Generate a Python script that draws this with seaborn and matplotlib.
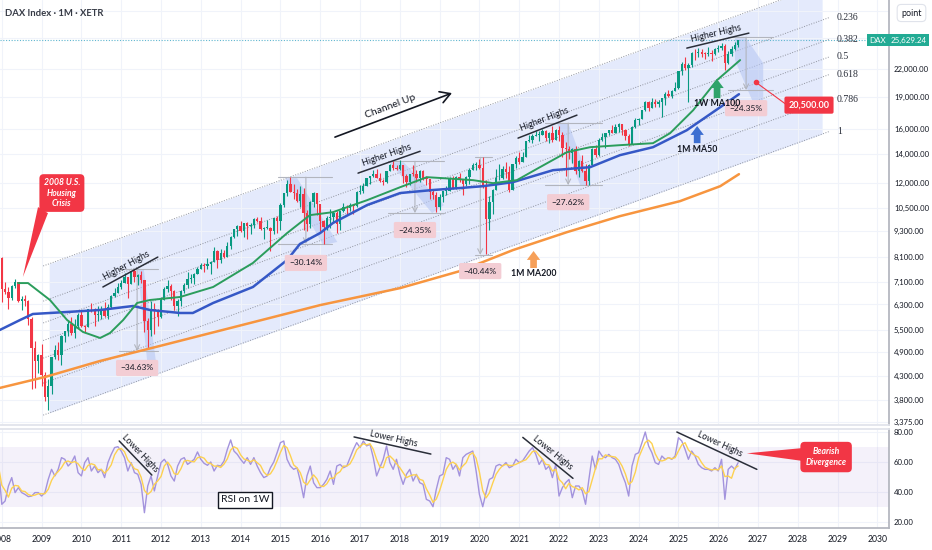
import numpy as np
import pandas as pd
import matplotlib
matplotlib.use("Agg")
import matplotlib.pyplot as plt
import seaborn as sns
from matplotlib.ticker import NullLocator
from matplotlib.patches import Polygon

sns.set_theme(style="white")
plt.rcParams["font.family"] = ["Lato", "DejaVu Sans"]

INK = "#131722"
UP = "#089981"
DOWN = "#f23645"
GRID = "#f0f3fa"
AXIS = "#b2b5be"

# monthly DAX candles, Dec 2007 .. Jul 2026 (open = previous close)
first_open = 7870
close = [
    8067,
    6851, 6748, 6535, 6949, 7097, 6418, 6479, 6422, 5831, 4988, 4669, 4810,
    4338, 3844, 4085, 4770, 4941, 4809, 5332, 5465, 5675, 5415, 5626, 5957,
    5608, 5598, 6154, 6136, 5964, 5966, 6148, 5925, 6229, 6601, 6688, 6914,
    7077, 7273, 7041, 7514, 7294, 7376, 7159, 5785, 5502, 6141, 6089, 5898,
    6458, 6856, 6947, 6761, 6264, 6416, 6772, 6970, 7216, 7260, 7405, 7612,
    7776, 7742, 7795, 7914, 8349, 7959, 8276, 8104, 8594, 9033, 9406, 9552,
    9306, 9692, 9556, 9603, 9943, 9833, 9407, 9470, 9474, 9327, 9980, 9806,
    10694, 11402, 11966, 11454, 11413, 10945, 11309, 10259, 9660, 10850, 11382, 10743,
    9798, 9495, 9966, 10039, 10263, 9680, 10337, 10593, 10511, 10665, 10640, 11481,
    11535, 11834, 12313, 12438, 12615, 12325, 12118, 12056, 12829, 13230, 13024, 12918,
    13189, 12436, 12097, 12612, 12605, 12306, 12806, 12364, 12247, 11447, 11257, 10559,
    11173, 11516, 11526, 12344, 11727, 12399, 12189, 11939, 12428, 12867, 13236, 13249,
    12982, 11890, 9936, 10862, 11587, 12311, 12313, 12945, 12761, 11556, 13291, 13719,
    13433, 13786, 15008, 15136, 15421, 15531, 15544, 15835, 15261, 15689, 15100, 15885,
    15471, 14461, 14415, 14098, 14388, 12784, 13484, 12835, 12114, 13253, 14397, 13924,
    15128, 15365, 15629, 15922, 15664, 16148, 16447, 15947, 15387, 14810, 16215, 16752,
    16904, 17678, 18492, 17932, 18498, 18235, 18509, 18907, 19325, 19078, 19627, 19909,
    21732, 22551, 22163, 22497, 23997, 23910, 24065, 23902, 23881, 24000, 23800, 24500,
    24600, 24900, 22700, 23900, 24500, 25000, 25629,
]
high = [
    8100,
    8100, 7100, 6900, 6990, 7230, 7100, 6590, 6620, 6460, 5880, 5200, 4850,
    5110, 4400, 4230, 4770, 5090, 5160, 5350, 5480, 5760, 5890, 5830, 6030,
    6095, 5650, 6160, 6340, 6170, 6240, 6250, 6390, 6300, 6640, 6890, 7080,
    7160, 7440, 7290, 7530, 7600, 7400, 7520, 7170, 5860, 6430, 6360, 6160,
    6540, 6920, 7190, 7030, 6800, 6480, 6780, 7080, 7480, 7410, 7440, 7690,
    7870, 7840, 8070, 7920, 8560, 8430, 8460, 8420, 8770, 9070, 9420, 9620,
    9800, 9720, 9740, 9700, 9970, 10050, 10030, 9520, 9890, 9530, 9990, 10090,
    10810, 11410, 12220, 12390, 11920, 11650, 11800, 11670, 10400, 10900, 11430, 11420,
    10760, 9890, 10100, 10480, 10350, 10370, 10350, 10800, 10700, 10830, 10760, 11490,
    11890, 12020, 12320, 12460, 12840, 12950, 12680, 12290, 12830, 13290, 13530, 13250,
    13600, 13240, 12620, 12620, 13200, 12880, 12890, 12880, 12460, 12300, 11640, 11480,
    11330, 11540, 11820, 12390, 12440, 12440, 12660, 12210, 12490, 12990, 13370, 13430,
    13640, 13800, 12190, 11200, 11630, 12920, 13310, 13120, 13460, 13150, 13310, 13900,
    14130, 14170, 15030, 15500, 15570, 15800, 15810, 16030, 15950, 15740, 16290, 16010,
    16290, 15740, 14930, 14590, 14500, 14660, 13540, 13950, 13290, 13260, 14480, 14680,
    15270, 15660, 15710, 15940, 16330, 16430, 16530, 16480, 16040, 15590, 16230, 17000,
    17000, 17700, 18570, 18570, 18890, 18780, 18690, 18920, 19490, 19680, 19660, 20520,
    21800, 22900, 23480, 22710, 24080, 24480, 24640, 24450, 24100, 24800, 24300, 24600,
    25000, 25300, 25100, 24200, 24900, 25400, 25700,
]
low = [
    7770,
    6384, 6650, 6167, 6450, 6880, 6380, 6130, 6250, 5640, 4015, 4040, 4380,
    4080, 3780, 3588, 3920, 4720, 4690, 4570, 5150, 5320, 5370, 5270, 5550,
    5600, 5430, 5590, 6060, 5610, 5770, 5830, 5880, 5830, 6170, 6560, 6680,
    6850, 7050, 6510, 7040, 7110, 6980, 7060, 5430, 4966, 5320, 5400, 5630,
    5850, 6440, 6740, 6460, 6130, 5920, 6260, 6710, 6890, 7080, 7020, 7390,
    7590, 7500, 7600, 7420, 7900, 7650, 7870, 8070, 8090, 8470, 8990, 9060,
    9260, 9020, 8900, 9170, 9440, 9760, 9370, 8900, 9400, 8355, 9170, 9220,
    9380, 10580, 11240, 11440, 11050, 10840, 10570, 9340, 9320, 9450, 10550, 10120,
    9310, 8700, 9370, 9470, 9750, 9210, 9370, 10280, 10170, 10350, 10170, 10550,
    11350, 11420, 11800, 11960, 12430, 12310, 12060, 11870, 12000, 12810, 12860, 12870,
    12860, 12000, 11730, 11870, 12500, 12100, 12100, 12180, 11870, 11050, 11010, 10280,
    10390, 10870, 11300, 11500, 11620, 11620, 12060, 11270, 11850, 11980, 12850, 12870,
    12920, 11720, 8256, 9360, 10200, 11580, 12190, 12240, 12340, 11450, 11550, 13030,
    13320, 13420, 13780, 14970, 14820, 15410, 15050, 15490, 15020, 14820, 14960, 15060,
    14990, 13800, 12440, 13620, 13380, 12620, 12390, 12770, 11860, 11860, 13210, 13790,
    13900, 15050, 14460, 15480, 15630, 15660, 15740, 15470, 15120, 14630, 14780, 16100,
    16350, 16840, 17640, 17630, 17870, 17950, 17950, 17020, 18210, 18950, 18840, 19580,
    19810, 21300, 21880, 18490, 22230, 23050, 23450, 23480, 23220, 23600, 23000, 23700,
    24100, 24300, 21900, 22600, 23600, 24300, 24800,
]

# weekly RSI sampled on each monthly bar
rsi = [
    57.1, 31.6, 33.8, 43.8, 49.4, 39.4, 42.7, 39.4, 38.2, 36.7,
    37.1, 39.4, 39.4, 37.1, 39.4, 48.2, 54.9, 50.5, 54.9, 62.7,
    61.6, 57.1, 59.4, 63.8, 52.7, 50.5, 59.4, 62.7, 53.8, 57.1,
    52.7, 54.9, 49.4, 59.4, 64.9, 69.4, 70.0, 67.1, 62.7, 53.8,
    59.4, 52.7, 51.6, 44.9, 26.0, 43.8, 50.5, 40.5, 50.5, 59.4,
    61.6, 58.2, 50.5, 47.1, 57.1, 61.6, 62.7, 58.2, 59.8, 61.6,
    66.5, 61.6, 58.9, 57.6, 59.8, 53.8, 57.6, 57.1, 60.5, 68.2,
    74.5, 67.1, 64.9, 61.6, 58.9, 62.7, 58.2, 62.7, 57.1, 52.7,
    49.4, 50.5, 56.0, 59.8, 66.0, 72.7, 73.8, 61.6,
    57.1, 54.9, 56.0, 47.1, 36.0, 50.5, 57.1, 46.0, 42.7, 42.7,
    44.9, 48.2, 53.8, 44.9, 57.1, 58.2, 56.0, 57.1, 62.7, 68.2,
    72.7, 69.4, 73.8, 70.5, 71.6, 62.7, 50.5, 56.0, 61.6, 70.5,
    59.4, 54.9, 61.6, 51.6, 44.9, 51.6, 54.9, 47.1, 51.6, 46.0,
    44.9, 34.9, 33.8, 30.0, 41.6, 50.5, 51.6, 62.7, 61.6, 54.9,
    58.2, 50.5, 62.7, 64.9, 66.0, 67.1, 53.8, 38.2, 30.0, 39.4,
    48.2, 49.4, 57.1, 58.2, 57.1, 59.4, 56.0, 57.1, 61.6, 59.4,
    60.5, 63.8, 67.1, 69.4, 64.9, 58.2, 61.6, 54.9, 57.1, 49.4,
    58.2, 37.1, 42.7, 46.0, 48.2, 36.0, 43.8,
    43.8, 40.5, 31.6, 48.2, 63.8, 54.9, 67.1, 63.8, 62.7, 64.9,
    62.7, 61.6, 58.2, 51.6, 46.0, 37.1, 57.1, 64.9, 66.0, 72.7,
    79.8, 70.5, 66.0, 59.4, 58.2, 63.8, 61.6, 62.7, 61.6, 63.8,
    76.0, 73.8, 68.2, 61.6, 67.1, 63.8, 58.2, 56.0, 54.9, 54.9,
    53.8, 56.0, 53.8, 61.6, 34.9, 54.9, 57.1, 54.9, 59.4,
]

# moving averages
ma50_year = [2007.95, 2008.46, 2008.78, 2009.64, 2010.47, 2011.30, 2011.72, 2012.48,
             2012.80, 2013.31, 2014.31, 2015.17, 2015.49, 2016.00, 2016.32, 2017.18,
             2018.01, 2018.83, 2019.51, 2020.09, 2020.84, 2021.85, 2022.78, 2023.53,
             2024.36, 2025.21, 2026.05, 2026.52]
ma50_price = [5502, 5802, 5990, 6054, 6119, 6250, 6119, 6022, 6022, 6351, 6914, 7981,
              8689, 9211, 9713, 10687, 11390, 11574, 11697, 11812, 12067, 12861, 13067,
              13928, 14531, 15904, 17971, 19255]
ma100w_year = [2008.41, 2008.66, 2009.21, 2009.64, 2010.04, 2010.47, 2010.72, 2011.05,
               2011.40, 2011.72, 2012.48, 2013.31, 2014.31, 2015.17, 2015.74, 2016.32,
               2017.18, 2018.01, 2018.68, 2019.09, 2019.84, 2020.34, 2020.94, 2021.52,
               2022.20, 2022.78, 2023.53, 2024.36, 2024.79, 2025.37, 2025.97, 2026.55]
ma100w_price = [7059, 7059, 6452, 5802, 5444, 5273, 5415, 5802, 6351, 6452, 6556, 6914,
                7856, 9211, 10128, 10290, 10968, 11750, 12391, 12326, 12196, 12004, 12196,
                13067, 14151, 14531, 14688, 14844, 15654, 17686, 20755, 23083]
ma200_year = [2007.95, 2009.09, 2010.47, 2011.97, 2014.24, 2016.00, 2018.01, 2019.51,
              2020.84, 2022.20, 2023.53, 2025.04, 2026.05, 2026.52]
ma200_price = [4044, 4287, 4667, 5054, 5711, 6280, 6874, 7523, 8410, 9253, 10074, 10910,
               11812, 12590]

year_ticks = list(range(2008, 2031))
price_ticks = [3375, 3800, 4300, 4900, 5500, 6300, 7100, 8100, 9300, 10500, 12000,
               14000, 16000, 19000, 22000]
hidden_price_ticks = [26000, 30000]
rsi_ticks = [20, 40, 60, 80]
fib_levels = [0, 0.236, 0.382, 0.5, 0.618, 0.786, 1]
last_price = 25629.24
target_price = 20500

# channel rails (years, prices)
channel_years = [2009.04, 2028.81]
channel_low = [3500, 15820]
channel_high = [7731, 34943]
channel_fill_years = [2009.19, 2028.61]

# drawdown measurements
dd_labels = ["\u221234.63%", "\u221230.14%", "\u221224.35%", "\u221240.44%",
             "\u221227.62%", "\u221224.35%"]
dd_top = [7607, 12391, 13480, 13770, 16520, 26080]
dd_bottom = [4922, 8689, 10236, 8195, 11875, 19680]
dd_from = [2010.95, 2014.95, 2017.71, 2019.89, 2021.64, 2026.25]
dd_to = [2011.92, 2016.30, 2019.11, 2020.32, 2023.08, 2027.38]
dd_mark = [2011.40, 2015.64, 2018.38, 2020.02, 2022.23, 2026.70]
dd_box = [4497, 7856, 9358, 7523, 10850, 17880]
dd_bands = [
    [(2011.42, 7567), (2011.57, 7567), (2011.92, 4310), (2011.69, 4310)],
    [(2015.12, 12326), (2015.42, 12326), (2016.43, 8781), (2016.07, 8642)],
    [(2017.75, 13410), (2018.10, 13410), (2019.11, 10687), (2018.81, 10236)],
    [(2021.95, 16520), (2022.23, 16520), (2022.81, 11875), (2022.53, 11875)],
    [(2026.42, 25940), (2026.70, 25940), (2027.13, 22710), (2027.13, 18660),
     (2026.85, 18660), (2026.42, 23083)],
]

# ---------------------------------------------------------------
n = len(close)
bars = pd.DataFrame({
    "year": 2007 + 11 / 12 + np.arange(n) / 12,
    "open": [first_open] + close[:-1],
    "high": high, "low": low, "close": close, "rsi": rsi,
})
bars["rsi_ma"] = bars["rsi"].rolling(3, min_periods=1).mean()
colors = np.where(bars["close"] >= bars["open"], UP, DOWN)

fig = plt.figure(figsize=(9.32, 5.5), dpi=100)
ax = fig.add_axes([0, 125 / 550, 889 / 932, 425 / 550])
ax2 = fig.add_axes([0, 22 / 550, 889 / 932, 99 / 550], sharex=ax)

ax.set_yscale("log")
ax.set_xlim(2007.955, 2030.29)
ax.set_ylim(3321, 31764)
ax2.set_ylim(15.8, 81.8)

# channel fill + fib rails
lo_log = np.log(channel_low)
hi_log = np.log(channel_high)
fl = np.exp(np.interp(channel_fill_years, channel_years, lo_log))
fh = np.exp(np.interp(channel_fill_years, channel_years, hi_log))
ax.fill_between(channel_fill_years, fl, fh, color="#dbe4fb", alpha=0.75, lw=0, zorder=0.5)
for lv in fib_levels:
    yy = np.exp(lo_log + (1 - lv) * (hi_log - lo_log))
    ax.plot(channel_years, yy, ls=(0, (1, 1.6)), color="#8f939e", lw=0.7, zorder=1)
    if lv > 0:
        ax.text(channel_years[1] + 0.17, yy[1], f"{lv:g}", fontsize=7, color="#2a2e39",
                va="center", ha="left", family=["Liberation Serif", "DejaVu Serif"])

for poly in dd_bands:
    ax.add_patch(Polygon(poly, closed=True, fc="#b8c8f3", ec="none", alpha=0.6, zorder=1))

# candles
ax.vlines(bars["year"], bars["low"], bars["high"], colors=colors, lw=0.8, zorder=3)
body_lo = bars[["open", "close"]].min(axis=1)
body_hi = np.maximum(bars[["open", "close"]].max(axis=1), body_lo * 1.004)
ax.bar(bars["year"], body_hi - body_lo, bottom=body_lo, width=0.058, color=colors,
       lw=0, zorder=3)

# moving averages
sns.lineplot(x=ma200_year, y=ma200_price, ax=ax, color="#f7953f", lw=1.8, zorder=4)
sns.lineplot(x=ma50_year, y=ma50_price, ax=ax, color="#3558c6", lw=1.8, zorder=4)
sns.lineplot(x=ma100w_year, y=ma100w_price, ax=ax, color="#2b9d5c", lw=1.4, zorder=4)

ax.axhline(last_price, color="#5fb6cf", ls=(0, (1, 1.5)), lw=0.8, zorder=2)

# RSI panel
ax2.axhspan(30, 70, color="#7e57c2", alpha=0.08, lw=0)
sns.lineplot(data=bars, x="year", y="rsi", ax=ax2, color="#a393dd", lw=1.0)
sns.lineplot(data=bars, x="year", y="rsi_ma", ax=ax2, color="#fdd150", lw=1.0)

# axes styling
for a in (ax, ax2):
    a.set_xticks(year_ticks)
    a.grid(True, color=GRID, lw=0.8)
    a.set_axisbelow(True)
    a.yaxis.tick_right()
    a.set_xlabel("")
    a.set_ylabel("")
    a.spines["left"].set_visible(False)
    a.spines["right"].set_color(AXIS)
    a.tick_params(length=0, labelsize=5.6, labelcolor=INK, pad=3.6)
ax.spines["top"].set_visible(False)
ax.spines["bottom"].set_color("#e0e3eb")
ax2.spines["top"].set_color("#e0e3eb")
ax2.spines["bottom"].set_color(AXIS)
ax.tick_params(labelbottom=False)
ax.yaxis.set_minor_locator(NullLocator())
ticks = price_ticks + hidden_price_ticks
ax.set_yticks(ticks)
ax.set_yticklabels([f"{v:,.2f}" for v in price_ticks] + [""] * len(hidden_price_ticks))
ax2.set_yticks(rsi_ticks)
ax2.set_yticklabels([f"{v:.2f}" for v in rsi_ticks])
ax2.set_xticklabels([str(y) for y in year_ticks])
ax2.tick_params(axis="x", pad=5, labelsize=6.2)


def line_label(a, p0, p1, text, off=5.5, size=6.5, arrow=False, lw=1.1):
    """Straight drawing with a text riding on it, like the chart's notes."""
    (x0, y0), (x1, y1) = a.transData.transform([p0, p1])
    ang = np.degrees(np.arctan2(y1 - y0, x1 - x0))
    if arrow:
        a.annotate("", xy=p1, xytext=p0,
                   arrowprops=dict(arrowstyle="->,head_length=0.6,head_width=0.35",
                                   color=INK, lw=lw, shrinkA=0, shrinkB=0))
    else:
        a.plot([p0[0], p1[0]], [p0[1], p1[1]], color="#2a2e39", lw=lw, zorder=5)
    mid = a.transData.inverted().transform(((x0 + x1) / 2, (y0 + y1) / 2))
    r = np.radians(ang)
    a.annotate(text, mid, xytext=(-np.sin(r) * off, np.cos(r) * off),
               textcoords="offset points", rotation=ang, ha="center", va="center",
               fontsize=size, color=INK, rotation_mode="anchor", zorder=6)


# higher highs
for p0, p1 in [((2010.54, 6914), (2011.92, 8105)),
               ((2016.95, 12660), (2018.51, 14220)),
               ((2020.97, 15250), (2022.45, 17230)),
               ((2025.21, 24600), (2026.77, 26640))]:
    line_label(ax, p0, p1, "Higher Highs")
line_label(ax, (2016.37, 15330), (2019.31, 19370), "Channel Up", off=6.5, size=7.5,
           arrow=True, lw=1.2)

# lower highs on RSI
for p0, p1 in [((2010.95, 73.8), (2011.77, 51.1)),
               ((2016.85, 76.5), (2018.78, 65.1)),
               ((2021.09, 76.2), (2022.35, 48.9)),
               ((2024.96, 79.8), (2026.97, 54.9))]:
    line_label(ax2, p0, p1, "Lower Highs", off=4.8, size=6.3)

# drawdown measures
for lab, top, bot, t0, t1, tm, yb in zip(dd_labels, dd_top, dd_bottom, dd_from, dd_to,
                                         dd_mark, dd_box):
    ax.plot([t0, t1], [top, top], color=AXIS, lw=0.8, zorder=2)
    ax.plot([t0, t1], [bot, bot], color=AXIS, lw=0.8, zorder=2)
    ax.annotate("", xy=(tm, bot), xytext=(tm, top),
                arrowprops=dict(arrowstyle="->,head_length=0.3,head_width=0.15",
                                color=AXIS, lw=0.8, shrinkA=0, shrinkB=0), zorder=2)
    ax.text(tm, yb, lab, ha="center", va="center", fontsize=6, color=INK, zorder=6,
            bbox=dict(boxstyle="round,pad=0.55,rounding_size=0.2", fc="#f3cdd4",
                      ec="none"))

# projected target
ax.plot([2026.95, 2027.73], [target_price, 18170], color=DOWN, lw=0.8, zorder=5)
ax.plot([2026.95], [target_price], "o", ms=3, color=DOWN, zorder=5)
ax.text(2028.28, 18170, f"{target_price:,.2f}", ha="center", va="center", fontsize=6.5,
        color="white", weight="bold", zorder=6,
        bbox=dict(boxstyle="round,pad=0.45,rounding_size=0.2", fc=DOWN, ec="none"))

# MA arrows
for t, tail, tip, col, lab, yl in [
        (2025.97, 18860, 20860, "#2fa36a", "1W MA100", 18360),
        (2025.47, 14844, 16260, "#3d6fd1", "1M MA50", 14370),
        (2021.36, 7648, 8370, "#f6a059", "1M MA200", 7408)]:
    ax.annotate("", xy=(t, tip), xytext=(t, tail), zorder=6,
                arrowprops=dict(arrowstyle="simple,head_length=0.8,head_width=1.2,tail_width=0.6",
                                fc=col, ec="none", mutation_scale=8, shrinkA=0, shrinkB=0))
    ax.text(t, yl, lab, ha="center", va="center", fontsize=6.3, weight="bold",
            color=INK, zorder=6)

# callouts
ax.add_patch(Polygon([(2008.91, 10570), (2009.16, 10236), (2008.53, 7291)],
                     closed=True, fc=DOWN, ec="none", zorder=6))
ax.text(2009.51, 11390, "2008 U.S.\nHousing\nCrisis", ha="center", va="center",
        fontsize=6.2, weight="bold", style="italic", color="white", linespacing=1.15,
        zorder=7, bbox=dict(boxstyle="round,pad=0.5,rounding_size=0.5", fc=DOWN, ec="none"))
ax2.add_patch(Polygon([(2028.12, 69.1), (2028.12, 60.5), (2026.72, 65.6)],
                      closed=True, fc=DOWN, ec="none", zorder=6))
ax2.text(2028.71, 63.1, "Bearish\nDivergence", ha="center", va="center", fontsize=6.2,
         weight="bold", style="italic", color="white", linespacing=1.3, zorder=7,
         bbox=dict(boxstyle="round,pad=0.6,rounding_size=0.5", fc=DOWN, ec="none"))
ax2.text(2014.11, 34.5, "RSI on 1W", ha="center", va="center", fontsize=7.5, color=INK,
         bbox=dict(boxstyle="square,pad=0.3", fc="white", ec=INK, lw=1.0))

# price scale labels
trans = ax.get_yaxis_transform()
ax.text(1.002, last_price, f"{last_price:,.2f}", transform=trans, ha="left", va="center",
        fontsize=5.8, color="white", clip_on=False, zorder=8,
        bbox=dict(boxstyle="square,pad=0.3", fc="#22ab94", ec="none"))
ax.text(0.997, last_price, "DAX", transform=trans, ha="right", va="center",
        fontsize=5.8, color="white", zorder=8,
        bbox=dict(boxstyle="square,pad=0.3", fc="#22ab94", ec="none"))
fig.text(0.978, 1 - 13 / 550, "point", ha="center", va="center", fontsize=6.5, color=INK,
         bbox=dict(boxstyle="round,pad=0.45", fc="white", ec="#e0e3eb", lw=0.8))
fig.text(5 / 932, 1 - 13 / 550, "DAX Index \u00b7 1M \u00b7 XETR", ha="left", va="center",
         fontsize=6.8, weight="bold", color="#363a45")

fig.savefig("out.png", dpi=100, facecolor="white")
